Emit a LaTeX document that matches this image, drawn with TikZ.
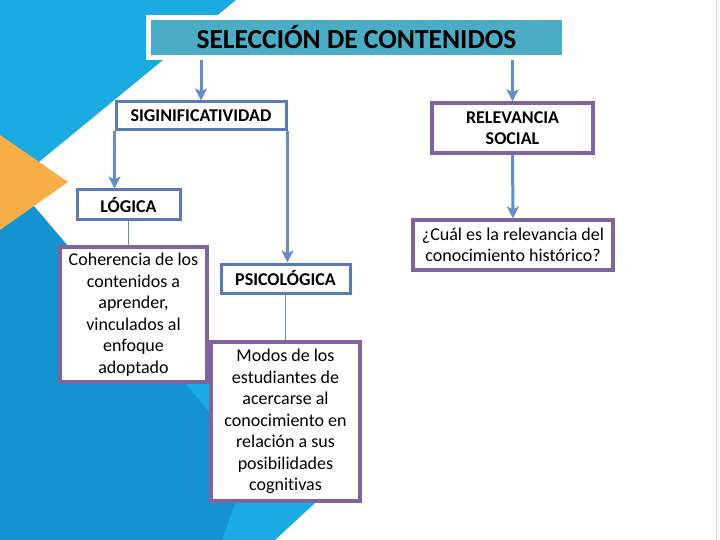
\documentclass[tikz,border=0pt]{standalone}
\usepackage{fontspec}
\setmainfont{Carlito}[Ligatures=NoCommon]
\usetikzlibrary{arrows.meta}
\definecolor{skyblue}{RGB}{26,171,227}
\definecolor{deepblue}{RGB}{21,146,208}
\definecolor{amber}{RGB}{246,174,69}
\definecolor{titlefill}{RGB}{75,172,198}
\definecolor{boxblue}{RGB}{88,125,180}
\definecolor{arrowblue}{RGB}{102,142,196}
\definecolor{boxpurple}{RGB}{128,100,160}
\begin{document}
\begin{tikzpicture}[x=1pt,y=-1pt]

        % Styles
        \tikzstyle{title box}=[fill=titlefill,draw=white,line width=5pt,minimum width=416pt,minimum height=40pt,font=\fontsize{27.5}{30}\selectfont\bfseries]
        \tikzstyle{blue box}=[fill=white,draw=boxblue,line width=3pt,inner sep=0pt,font=\fontsize{18}{21.5}\selectfont\bfseries]
        \tikzstyle{purple box}=[fill=white,draw=boxpurple,line width=3.2pt,inner sep=0pt,align=center,font=\fontsize{18}{21.5}\selectfont]
        \tikzstyle{important line}=[draw=arrowblue,line width=3pt,-{Stealth[length=12pt,width=12pt,inset=3pt]}]
        \tikzstyle{thin line}=[draw=arrowblue!80!gray,line width=0.9pt]
        %background
        \useasboundingbox (0,0) rectangle (720,540);
        \fill[white] (0,0) rectangle (720,540);
        \fill[skyblue] (0,0) -- (236,0) -- (0,194) -- cycle;
        \fill[skyblue] (150,322) -- (342,478) -- (275,540) -- (150,540) -- cycle;
        \fill[deepblue] (0,166) -- (250,460) -- (222,540) -- (0,540) -- cycle;
        \fill[amber] (0,135) -- (68,182) -- (0,230) -- cycle;
        \draw[black!15] (716,0) -- (716,540);
        %The graphic
        \node[title box] (title) at (356.5,37.5) {SELECCIÓN DE CONTENIDOS};
        \node[blue box,minimum width=170pt,minimum height=28pt] (sig) at (201,116) {SIGINIFICATIVIDAD};
        \node[blue box,minimum width=103pt,minimum height=30pt] (log) at (128.5,205) {LÓGICA};
        \node[blue box,minimum width=129pt,minimum height=29pt] (psi) at (285.5,278.5) {PSICOLÓGICA};
        \node[purple box,minimum width=161pt,minimum height=50pt,font=\fontsize{18}{21.5}\selectfont\bfseries] (rel) at (512.5,128) {RELEVANCIA\\SOCIAL};
        \node[purple box,minimum width=147pt,minimum height=135pt] (coh) at (133.5,314.5) {Coherencia de los\\contenidos a\\aprender,\\vinculados al\\enfoque\\adoptado};
        \node[purple box,minimum width=149pt,minimum height=159pt] (mod) at (285.5,421.5) {Modos de los\\estudiantes de\\acercarse al\\conocimiento en\\relación a sus\\posibilidades\\cognitivas};
        \node[purple box,minimum width=200pt,minimum height=50pt] (cual) at (513,245) {¿Cuál es la relevancia del\\conocimiento histórico?};
        %connectors
        \draw[important line] (sig.north |- title.south) -- (sig.north);
        \draw[important line] (rel.north |- title.south) -- (rel.north);
        \draw[important line] (sig.south west) -- (sig.south west |- log.north);
        \draw[important line] (sig.south east) -- (sig.south east |- psi.north);
        \draw[important line] (rel.south) -- (cual.north);
        \draw[thin line] (log.south) -- (log.south |- coh.north);
        \draw[thin line] (psi.south) -- (mod.north);
\end{tikzpicture}
\end{document}
